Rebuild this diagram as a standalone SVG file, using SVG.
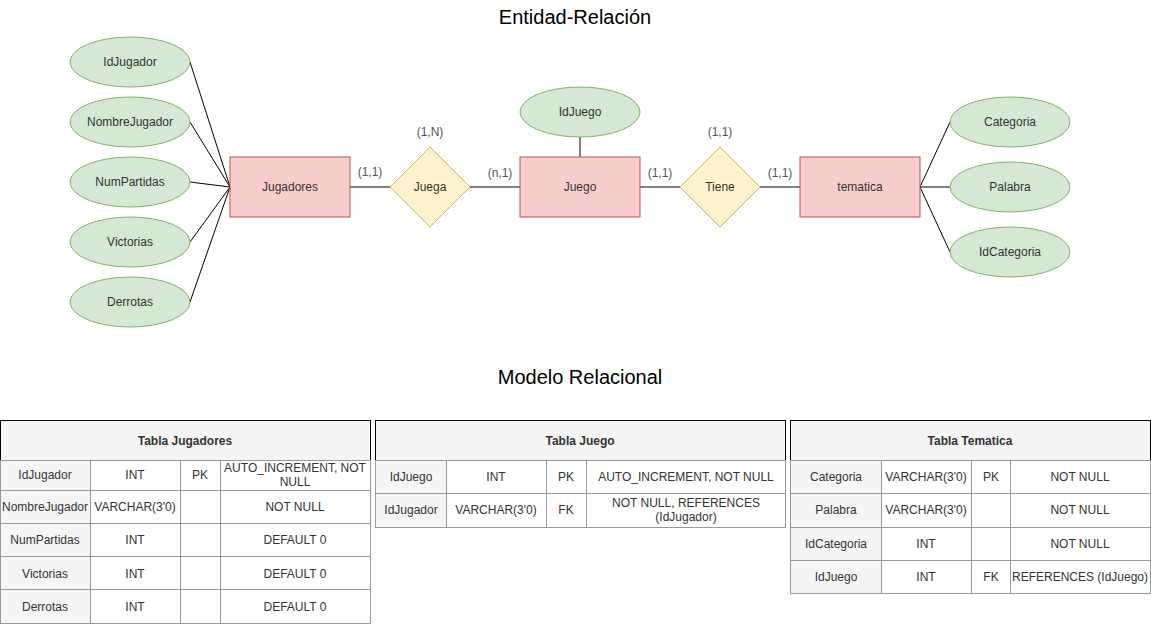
<svg xmlns="http://www.w3.org/2000/svg" width="1151" height="625" viewBox="0 0 1151 625">
<style>
text{font-family:"Liberation Sans",Arial,sans-serif;font-size:12px;fill:#333;text-anchor:middle}
.title{font-size:20px;fill:#000}
.th{font-weight:bold;font-size:12px}
.attr{fill:#d5e8d4;stroke:#82b366;stroke-width:1}
.ent{fill:#f8cecc;stroke:#b85450;stroke-width:1}
.rel{fill:#fff2cc;stroke:#d6b656;stroke-width:1}
.conn line{stroke:#000;stroke-width:1}
.hd{fill:#f5f5f5;stroke:#000;stroke-width:1}
.c{fill:#fff;stroke:#999;stroke-width:1}
.g{fill:#f5f5f5;stroke:#999;stroke-width:1}
.card{fill:#555}
</style>
<rect width="1151" height="625" fill="#fff"/>
<text class="title" x="575" y="24">Entidad-Relación</text>
<text class="title" x="580" y="384">Modelo Relacional</text>

<g id="connectors" class="conn">
<line x1="190" y1="62" x2="230" y2="187"/>
<line x1="190" y1="122" x2="230" y2="187"/>
<line x1="190" y1="182" x2="230" y2="187"/>
<line x1="190" y1="242" x2="230" y2="187"/>
<line x1="190" y1="302" x2="230" y2="187"/>
<line x1="350" y1="187" x2="390" y2="187"/>
<line x1="470" y1="187" x2="520" y2="187"/>
<line x1="580" y1="137" x2="580" y2="157"/>
<line x1="640" y1="187" x2="680" y2="187"/>
<line x1="760" y1="187" x2="800" y2="187"/>
<line x1="920" y1="187" x2="950" y2="122"/>
<line x1="920" y1="187" x2="950" y2="187"/>
<line x1="920" y1="187" x2="950" y2="252"/>
</g>

<g id="attr-idjugador"><ellipse class="attr" cx="130" cy="62" rx="60" ry="25"/><text x="130" y="66">IdJugador</text></g>
<g id="attr-nombrejugador"><ellipse class="attr" cx="130" cy="122" rx="60" ry="25"/><text x="130" y="126">NombreJugador</text></g>
<g id="attr-numpartidas"><ellipse class="attr" cx="130" cy="182" rx="60" ry="25"/><text x="130" y="186">NumPartidas</text></g>
<g id="attr-victorias"><ellipse class="attr" cx="130" cy="242" rx="60" ry="25"/><text x="130" y="246">Victorias</text></g>
<g id="attr-derrotas"><ellipse class="attr" cx="130" cy="302" rx="60" ry="25"/><text x="130" y="306">Derrotas</text></g>

<g id="ent-jugadores"><rect class="ent" x="230" y="157" width="120" height="60"/><text x="290" y="191">Jugadores</text></g>
<g id="rel-juega"><polygon class="rel" points="430,147 470,187 430,227 390,187"/><text x="430" y="191">Juega</text></g>
<g id="ent-juego"><rect class="ent" x="520" y="157" width="120" height="60"/><text x="580" y="191">Juego</text></g>
<g id="attr-idjuego"><ellipse class="attr" cx="580" cy="112" rx="60" ry="25"/><text x="580" y="116">IdJuego</text></g>
<g id="rel-tiene"><polygon class="rel" points="720,147 760,187 720,227 680,187"/><text x="720" y="191">Tiene</text></g>
<g id="ent-tematica"><rect class="ent" x="800" y="157" width="120" height="60"/><text x="860" y="191">tematica</text></g>
<g id="attr-categoria"><ellipse class="attr" cx="1010" cy="122" rx="60" ry="25"/><text x="1010" y="126">Categoria</text></g>
<g id="attr-palabra"><ellipse class="attr" cx="1010" cy="187" rx="60" ry="25"/><text x="1010" y="191">Palabra</text></g>
<g id="attr-idcategoria"><ellipse class="attr" cx="1010" cy="252" rx="60" ry="25"/><text x="1010" y="256">IdCategoria</text></g>

<g id="cardinalities">
<text class="card" x="370" y="176">(1,1)</text>
<text class="card" x="430" y="136">(1,N)</text>
<text class="card" x="500" y="177">(n,1)</text>
<text class="card" x="660" y="177">(1,1)</text>
<text class="card" x="720" y="136">(1,1)</text>
<text class="card" x="780" y="177">(1,1)</text>
</g>

<g id="tabla-jugadores">
<rect class="hd" x="0.5" y="420.5" width="370" height="40"/>
<text class="th" x="185" y="445">Tabla Jugadores</text>
<rect class="g" x="0.5" y="460.5" width="90" height="30"/>
<rect class="c" x="90.5" y="460.5" width="90" height="30"/>
<rect class="c" x="180.5" y="460.5" width="40" height="30"/>
<rect class="c" x="220.5" y="460.5" width="150" height="30"/>
<rect class="g" x="0.5" y="490.5" width="90" height="33"/>
<rect class="c" x="90.5" y="490.5" width="90" height="33"/>
<rect class="c" x="180.5" y="490.5" width="40" height="33"/>
<rect class="c" x="220.5" y="490.5" width="150" height="33"/>
<rect class="g" x="0.5" y="523.5" width="90" height="33"/>
<rect class="c" x="90.5" y="523.5" width="90" height="33"/>
<rect class="c" x="180.5" y="523.5" width="40" height="33"/>
<rect class="c" x="220.5" y="523.5" width="150" height="33"/>
<rect class="g" x="0.5" y="556.5" width="90" height="33"/>
<rect class="c" x="90.5" y="556.5" width="90" height="33"/>
<rect class="c" x="180.5" y="556.5" width="40" height="33"/>
<rect class="c" x="220.5" y="556.5" width="150" height="33"/>
<rect class="g" x="0.5" y="589.5" width="90" height="34"/>
<rect class="c" x="90.5" y="589.5" width="90" height="34"/>
<rect class="c" x="180.5" y="589.5" width="40" height="34"/>
<rect class="c" x="220.5" y="589.5" width="150" height="34"/>
<text x="45" y="479">IdJugador</text><text x="135" y="479">INT</text><text x="200" y="479">PK</text>
<text x="295" y="472">AUTO_INCREMENT, NOT</text><text x="295" y="486">NULL</text>
<text x="45" y="511">NombreJugador</text><text x="135" y="511">VARCHAR(3'0)</text><text x="295" y="511">NOT NULL</text>
<text x="45" y="544">NumPartidas</text><text x="135" y="544">INT</text><text x="295" y="544">DEFAULT 0</text>
<text x="45" y="578">Victorias</text><text x="135" y="578">INT</text><text x="295" y="578">DEFAULT 0</text>
<text x="45" y="611">Derrotas</text><text x="135" y="611">INT</text><text x="295" y="611">DEFAULT 0</text>
</g>

<g id="tabla-juego">
<rect class="hd" x="375.5" y="420.5" width="410" height="40"/>
<text class="th" x="580" y="445">Tabla Juego</text>
<rect class="g" x="375.5" y="460.5" width="71" height="33"/>
<rect class="c" x="446.5" y="460.5" width="100" height="33"/>
<rect class="c" x="546.5" y="460.5" width="40" height="33"/>
<rect class="c" x="586.5" y="460.5" width="199" height="33"/>
<rect class="g" x="375.5" y="493.5" width="71" height="34"/>
<rect class="c" x="446.5" y="493.5" width="100" height="34"/>
<rect class="c" x="546.5" y="493.5" width="40" height="34"/>
<rect class="c" x="586.5" y="493.5" width="199" height="34"/>
<text x="411" y="481">IdJuego</text><text x="496" y="481">INT</text><text x="566" y="481">PK</text><text x="686" y="481">AUTO_INCREMENT, NOT NULL</text>
<text x="411" y="514">IdJugador</text><text x="496" y="514">VARCHAR(3'0)</text><text x="566" y="514">FK</text>
<text x="686" y="507">NOT NULL, REFERENCES</text><text x="686" y="521">(IdJugador)</text>
</g>

<g id="tabla-tematica">
<rect class="hd" x="790.5" y="420.5" width="360" height="40"/>
<text class="th" x="970" y="445">Tabla Tematica</text>
<rect class="g" x="790.5" y="460.5" width="91" height="33"/>
<rect class="c" x="881.5" y="460.5" width="90" height="33"/>
<rect class="c" x="971.5" y="460.5" width="39" height="33"/>
<rect class="c" x="1010.5" y="460.5" width="140" height="33"/>
<rect class="g" x="790.5" y="493.5" width="91" height="34"/>
<rect class="c" x="881.5" y="493.5" width="90" height="34"/>
<rect class="c" x="971.5" y="493.5" width="39" height="34"/>
<rect class="c" x="1010.5" y="493.5" width="140" height="34"/>
<rect class="g" x="790.5" y="527.5" width="91" height="33"/>
<rect class="c" x="881.5" y="527.5" width="90" height="33"/>
<rect class="c" x="971.5" y="527.5" width="39" height="33"/>
<rect class="c" x="1010.5" y="527.5" width="140" height="33"/>
<rect class="g" x="790.5" y="560.5" width="91" height="33"/>
<rect class="c" x="881.5" y="560.5" width="90" height="33"/>
<rect class="c" x="971.5" y="560.5" width="39" height="33"/>
<rect class="c" x="1010.5" y="560.5" width="140" height="33"/>
<text x="836" y="481">Categoria</text><text x="926" y="481">VARCHAR(3'0)</text><text x="991" y="481">PK</text><text x="1080" y="481">NOT NULL</text>
<text x="836" y="514">Palabra</text><text x="926" y="514">VARCHAR(3'0)</text><text x="1080" y="514">NOT NULL</text>
<text x="836" y="548">IdCategoria</text><text x="926" y="548">INT</text><text x="1080" y="548">NOT NULL</text>
<text x="836" y="581">IdJuego</text><text x="926" y="581">INT</text><text x="991" y="581">FK</text><text x="1080" y="581">REFERENCES (IdJuego)</text>
</g>
</svg>
